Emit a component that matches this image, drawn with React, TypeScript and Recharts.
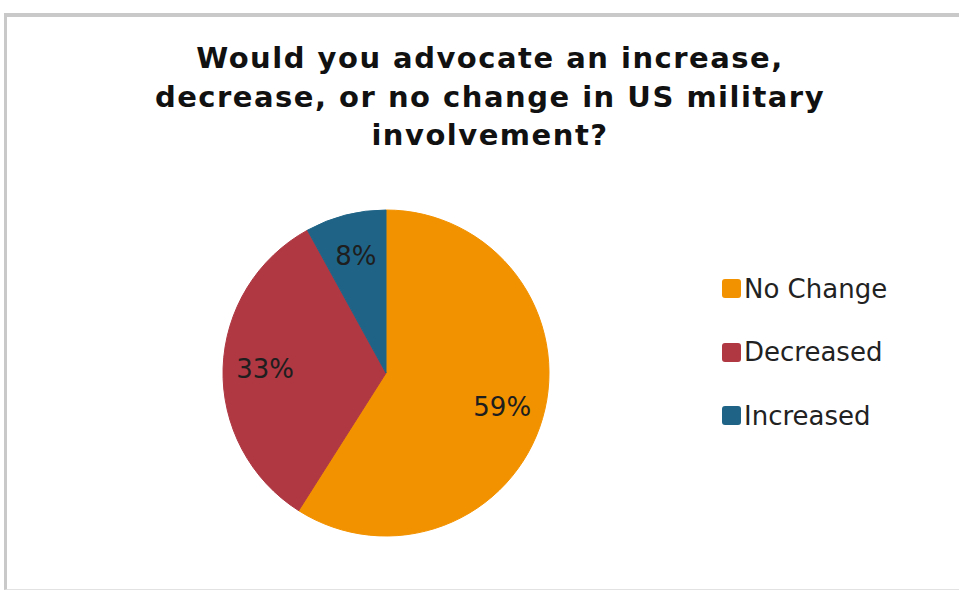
import React from "react";
import { PieChart, Pie, Cell, Legend } from "recharts";

const categories = ["No Change", "Decreased", "Increased"];
const shares = [59, 33, 8];
const colors = ["#F39200", "#AF3843", "#1F6487"];

const titleLines = [
  "Would you advocate an increase,",
  "decrease, or no change in US military",
  "involvement?",
];

const data = categories.map((name, i) => ({ name, value: shares[i] }));

const RAD = Math.PI / 180;

const renderLabel = (props: any) => {
  const { cx, cy, midAngle, value } = props;
  const r = 121;
  const x = cx + r * Math.cos(-midAngle * RAD);
  const y = cy + r * Math.sin(-midAngle * RAD);
  return (
    <text
      x={x}
      y={y}
      fill="#1e1e1e"
      textAnchor="middle"
      dominantBaseline="central"
      fontFamily="DejaVu Sans, Verdana, sans-serif"
      fontSize={26}
    >
      {`${value}%`}
    </text>
  );
};

const LegendBox = () => (
  <div style={{ fontFamily: "DejaVu Sans, Verdana, sans-serif" }}>
    {categories.map((c, i) => (
      <div
        key={c}
        style={{ display: "flex", alignItems: "center", height: 63.5 }}
      >
        <span
          style={{
            width: 19,
            height: 19,
            borderRadius: 3,
            background: colors[i],
            display: "inline-block",
            marginRight: 3,
          }}
        />
        <span style={{ fontSize: 26, color: "#222" }}>{c}</span>
      </div>
    ))}
  </div>
);

export default function App() {
  return (
    <div
      style={{
        position: "absolute",
        left: 0,
        top: 0,
        width: 959,
        height: 590,
        background: "#fff",
        overflow: "hidden",
      }}
    >
      <div
        style={{
          position: "absolute",
          left: 4,
          top: 13,
          width: 970,
          height: 572,
          borderTop: "4px solid #c9c9c9",
          borderLeft: "3px solid #c9c9c9",
          borderBottom: "1px solid #e2e2e2",
        }}
      />
      <div
        style={{
          position: "absolute",
          left: 0,
          top: 39,
          width: 980,
          textAlign: "center",
          fontFamily: "DejaVu Sans, Verdana, sans-serif",
          fontWeight: "bold",
          fontSize: 29,
          letterSpacing: 1.5,
          lineHeight: "38.5px",
          color: "#111",
        }}
      >
        {titleLines.map((l) => (
          <div key={l}>{l}</div>
        ))}
      </div>
      <PieChart
        width={959}
        height={590}
        margin={{ top: 0, right: 0, bottom: 0, left: 0 }}
        style={{ position: "absolute", left: 0, top: 0 }}
      >
        <Pie
          data={data}
          dataKey="value"
          nameKey="name"
          cx={386}
          cy={373}
          outerRadius={163}
          startAngle={90}
          endAngle={-270}
          label={renderLabel}
          labelLine={false}
          isAnimationActive={false}
        >
          {data.map((d, i) => (
            <Cell key={d.name} fill={colors[i]} stroke={colors[i]} />
          ))}
        </Pie>
        <Legend
          content={<LegendBox />}
          wrapperStyle={{ left: 722, top: 257, width: 230 }}
        />
      </PieChart>
    </div>
  );
}
